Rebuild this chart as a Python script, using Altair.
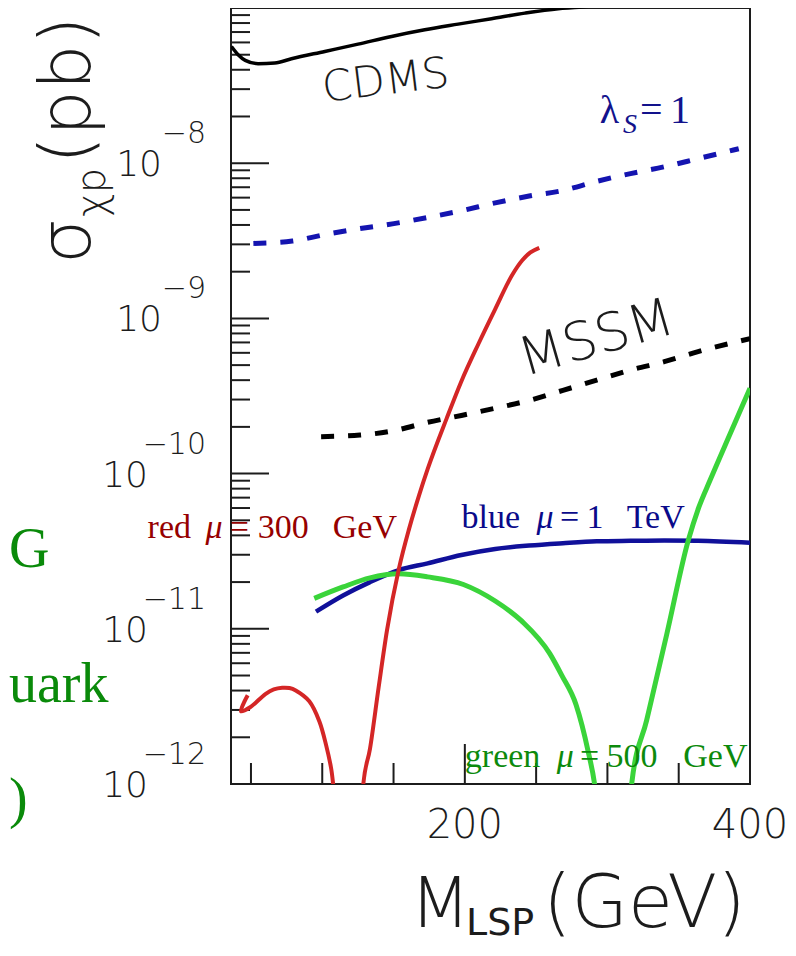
import altair as alt
import pandas as pd

# ---------------- data (x: M_LSP in GeV, y: sigma_xp in pb) ----------------
cdms_x = [36.3, 41.0, 46.0, 55.0, 66.7, 78.4, 101.8, 125.1, 148.6, 171.9, 195.3, 218.7, 242.1, 265.5, 280.0, 300.0]
cdms_y = [5.65e-8, 5.0e-8, 4.6e-8, 4.38e-8, 4.42e-8, 4.71e-8, 5.25e-8, 5.85e-8, 6.56e-8, 7.24e-8, 7.87e-8,
          8.53e-8, 9.27e-8, 9.89e-8, 1.01e-7, 1.07e-7]

lam_x = [51.7, 79.0, 102.7, 126.5, 150.2, 173.9, 197.6, 221.3, 245.1, 268.8, 292.5, 316.2, 339.9, 363.6, 392.1]
lam_y = [3.04e-9, 3.15e-9, 3.48e-9, 3.79e-9, 4.08e-9, 4.47e-9, 4.94e-9, 5.55e-9, 6.14e-9, 6.67e-9, 7.64e-9,
         8.57e-9, 9.48e-9, 1.07e-8, 1.24e-8]

mssm_x = [99.2, 126.5, 150.2, 173.9, 197.6, 221.3, 245.1, 268.8, 292.5, 316.2, 339.9, 363.6, 400.0]
mssm_y = [1.73e-10, 1.77e-10, 1.89e-10, 2.14e-10, 2.37e-10, 2.64e-10, 2.96e-10, 3.44e-10, 4.00e-10, 4.65e-10,
          5.26e-10, 6.11e-10, 7.41e-10]

red_a_x = [47.7, 43.0, 49.4, 60.1, 66.0, 71.9, 77.0, 81.4, 90.9, 98.0, 102.7, 106.3, 107.9, 109.0]
red_a_y = [3.73e-12, 2.94e-12, 3.12e-12, 3.80e-12, 4.07e-12, 4.17e-12, 4.15e-12, 4.00e-12, 3.41e-12, 2.53e-12,
           1.78e-12, 1.25e-12, 9.5e-13, 7.9e-13]

red_b_x = [127.8, 128.8, 133.5, 139.5, 145.4, 153.8, 160.8, 168.0, 173.9, 187.2, 197.6, 209.5, 221.3, 233.2,
           240.3, 246.0, 252.2]
red_b_y = [7.9e-13, 1.0e-12, 1.69e-12, 4.17e-12, 9.77e-12, 2.45e-11, 4.37e-11, 7.29e-11, 1.067e-10, 2.26e-10,
           3.94e-10, 6.84e-10, 1.148e-9, 1.905e-9, 2.37e-9, 2.66e-9, 2.85e-9]

blue_x = [95.6, 114.6, 133.5, 153.8, 173.9, 197.6, 221.3, 245.1, 268.8, 292.5, 316.2, 339.9, 363.6, 400.0]
blue_y = [1.29e-11, 1.64e-11, 2.00e-11, 2.39e-11, 2.64e-11, 2.99e-11, 3.27e-11, 3.44e-11, 3.56e-11, 3.66e-11,
          3.69e-11, 3.71e-11, 3.69e-11, 3.59e-11]

green_a_x = [94.4, 114.6, 133.5, 153.8, 173.9, 199.0, 221.3, 240.0, 259.6, 268.0, 278.0, 286.5, 291.0, 293.0]
green_a_y = [1.57e-11, 1.86e-11, 2.13e-11, 2.26e-11, 2.16e-11, 1.93e-11, 1.51e-11, 1.12e-11, 6.92e-12, 5.01e-12,
             3.24e-12, 1.62e-12, 1.0e-12, 7.1e-13]

green_b_x = [315.5, 317.0, 327.5, 341.5, 356.7, 364.0, 371.9, 386.0, 400.0]
green_b_y = [7.1e-13, 1.0e-12, 2.57e-12, 9.12e-12, 3.71e-11, 6.03e-11, 9.02e-11, 1.80e-10, 3.55e-10]

# tick positions and labels
x_minor_ticks = [50, 100, 150, 250, 300, 350]
x_major_ticks = [200]
x_tick_labels = [200, 400]
y_major_ticks = [1e-11, 1e-10, 1e-9, 1e-8]
y_minor_ticks = [m * 10.0 ** e for e in range(-12, -7) for m in range(2, 10)]
y_label_vals_short = [1e-9, 1e-8]
y_label_exp_short = ["\u22129", "\u22128"]
y_label_vals_long = [1e-12, 1e-11, 1e-10]
y_label_exp_long = ["\u221212", "\u221211", "\u221210"]

# ---------------- chart ----------------
W, H = 519, 776
xs = alt.Scale(domain=[36, 400], nice=False, zero=False)
ys = alt.Scale(type="log", domain=[1e-12, 1e-7], nice=False)
X = alt.X("x:Q", scale=xs, axis=None)
Y = alt.Y("y:Q", scale=ys, axis=None)

SANS = "DejaVu Sans"
SERIF = "Liberation Serif"
INK = "#1c1c1c"


def curve(xv, yv, color, width, dash=None, interp="monotone"):
    df = pd.DataFrame({"x": xv, "y": yv, "i": list(range(len(xv)))})
    kw = dict(color=color, strokeWidth=width, clip=True, interpolate=interp, strokeCap="butt")
    if dash:
        kw["strokeDash"] = dash
    return alt.Chart(df).mark_line(**kw).encode(x=X, y=Y, order="i:Q")


def label(rows, color, size, font=SERIF, style="normal", weight="normal", align="left",
          baseline="alphabetic", angle=0):
    df = pd.DataFrame(rows, columns=["x", "y", "t"])
    return alt.Chart(df).mark_text(color=color, fontSize=size, font=font, fontStyle=style,
                                   fontWeight=weight, align=align, baseline=baseline,
                                   angle=angle).encode(x=X, y=Y, text="t:N")


def fixed_text(t, px, py, size, color=INK, font=SANS, weight=200, align="left", angle=0,
               style="normal"):
    return alt.Chart(pd.DataFrame({"t": [t]})).mark_text(
        color=color, fontSize=size, font=font, fontWeight=weight, align=align,
        baseline="alphabetic", angle=angle, fontStyle=style
    ).encode(x=alt.value(px), y=alt.value(py), text="t:N")


layers = []

# inward ticks
layers.append(alt.Chart(pd.DataFrame({"y": y_minor_ticks})).mark_rule(color=INK, strokeWidth=2).encode(
    y=Y, x=alt.value(0), x2=alt.value(19)))
layers.append(alt.Chart(pd.DataFrame({"y": y_major_ticks})).mark_rule(color=INK, strokeWidth=2).encode(
    y=Y, x=alt.value(0), x2=alt.value(38)))
layers.append(alt.Chart(pd.DataFrame({"x": x_minor_ticks})).mark_rule(color=INK, strokeWidth=2).encode(
    x=X, y=alt.value(H), y2=alt.value(H - 21)))
layers.append(alt.Chart(pd.DataFrame({"x": x_major_ticks})).mark_rule(color=INK, strokeWidth=2).encode(
    x=X, y=alt.value(H), y2=alt.value(H - 40)))

# curves
layers.append(curve(cdms_x, cdms_y, "#000000", 3.5))
layers.append(curve(lam_x, lam_y, "#1414b0", 5, dash=[13, 14]))
layers.append(curve(mssm_x, mssm_y, "#000000", 5, dash=[13, 14]))
layers.append(curve(blue_x, blue_y, "#10109a", 4.5))
layers.append(curve(green_a_x, green_a_y, "#3ad43a", 5))
layers.append(curve(green_b_x, green_b_y, "#3ad43a", 5))
layers.append(curve(red_a_x, red_a_y, "#d42626", 4, interp="catmull-rom"))
layers.append(curve(red_b_x, red_b_y, "#d42626", 4))

# in-plot annotations
layers.append(label([(144.5, 3.37e-8, "CDMS")], INK, 43, font=SANS, weight=200, align="center",
                    baseline="middle", angle=353))
layers.append(label([(292.4, 7.38e-10, "MSSM")], INK, 53, font=SANS, weight=200, align="center",
                    baseline="middle", angle=344))
NAVY = "#12128c"
layers.append(label([(294.7, 1.81e-8, "\u03bb"), (322.8, 1.81e-8, "="), (343.9, 1.81e-8, "1")], NAVY, 40))
layers.append(label([(310.9, 1.56e-8, "S")], NAVY, 28, style="italic"))

DRED = "#960000"
layers.append(label([(-22.5, 3.87e-11, "red"), (35.1, 3.87e-11, "="), (54.7, 3.87e-11, "300"),
                     (107.4, 3.87e-11, "GeV")], DRED, 34))
layers.append(label([(18.2, 3.87e-11, "\u03bc")], DRED, 34, style="italic"))

layers.append(label([(197.7, 4.43e-11, "blue"), (266.7, 4.43e-11, "="), (285.4, 4.43e-11, "1"),
                     (313.5, 4.43e-11, "TeV")], "#0a0a8a", 34))
layers.append(label([(250.3, 4.43e-11, "\u03bc")], "#0a0a8a", 34, style="italic"))

DGREEN = "#0c8a0c"
layers.append(label([(200.0, 1.29e-12, "green"), (280.7, 1.29e-12, "="), (299.4, 1.29e-12, "500"),
                     (353.2, 1.29e-12, "GeV")], DGREEN, 34))
layers.append(label([(264.4, 1.29e-12, "\u03bc")], DGREEN, 34, style="italic"))

# y tick labels (10 with superscript exponent)
for vals, exps, base_x in ((y_label_vals_short, y_label_exp_short, -69),
                           (y_label_vals_long, y_label_exp_long, -83)):
    df = pd.DataFrame({"y": vals, "e": exps, "b": ["10"] * len(vals)})
    layers.append(alt.Chart(df).mark_text(font=SANS, fontWeight=200, fontSize=36, color=INK,
                                          align="right", baseline="alphabetic", dy=13).encode(
        y=Y, x=alt.value(base_x), text="b:N"))
    layers.append(alt.Chart(df).mark_text(font=SANS, fontWeight=200, fontSize=30, color=INK,
                                          align="right", baseline="alphabetic", dy=-20).encode(
        y=Y, x=alt.value(-25), text="e:N"))

# x tick labels
layers.append(alt.Chart(pd.DataFrame({"x": x_tick_labels, "t": [str(v) for v in x_tick_labels]})).mark_text(
    font=SANS, fontWeight=200, fontSize=40, color=INK, align="center", baseline="alphabetic").encode(
    x=X, y=alt.value(H + 54), text="t:N"))

# axis titles
layers.append(fixed_text("M", 179, 919, 70))
layers.append(fixed_text("LSP", 235, 927, 38, weight="normal"))
layers.append(fixed_text("(GeV)", 312, 919, 73))
layers.append(fixed_text("\u03c3", -141, 256, 72, angle=270))
layers.append(fixed_text("\u03c7p", -126, 209, 40, angle=270))
layers.append(fixed_text("(pb)", -141, 156, 72, angle=270))

# slide text fragments at the far left edge
GREEN_TXT = "#0a8a0a"
layers.append(fixed_text("G", -222, 559, 56, color=GREEN_TXT, font=SERIF, weight="normal"))
layers.append(fixed_text("uark", -222, 694, 56, color=GREEN_TXT, font=SERIF, weight="normal"))
layers.append(fixed_text(")", -222, 809, 56, color=GREEN_TXT, font=SERIF, weight="normal"))

chart = alt.layer(*layers).properties(
    width=W, height=H,
    autosize=alt.AutoSizeParams(type="none"),
    padding={"left": 223, "top": 0, "right": 38, "bottom": 160},
).configure_view(stroke=INK, strokeWidth=2)

chart.save("out.html", embed_options={"renderer": "svg", "actions": False})
